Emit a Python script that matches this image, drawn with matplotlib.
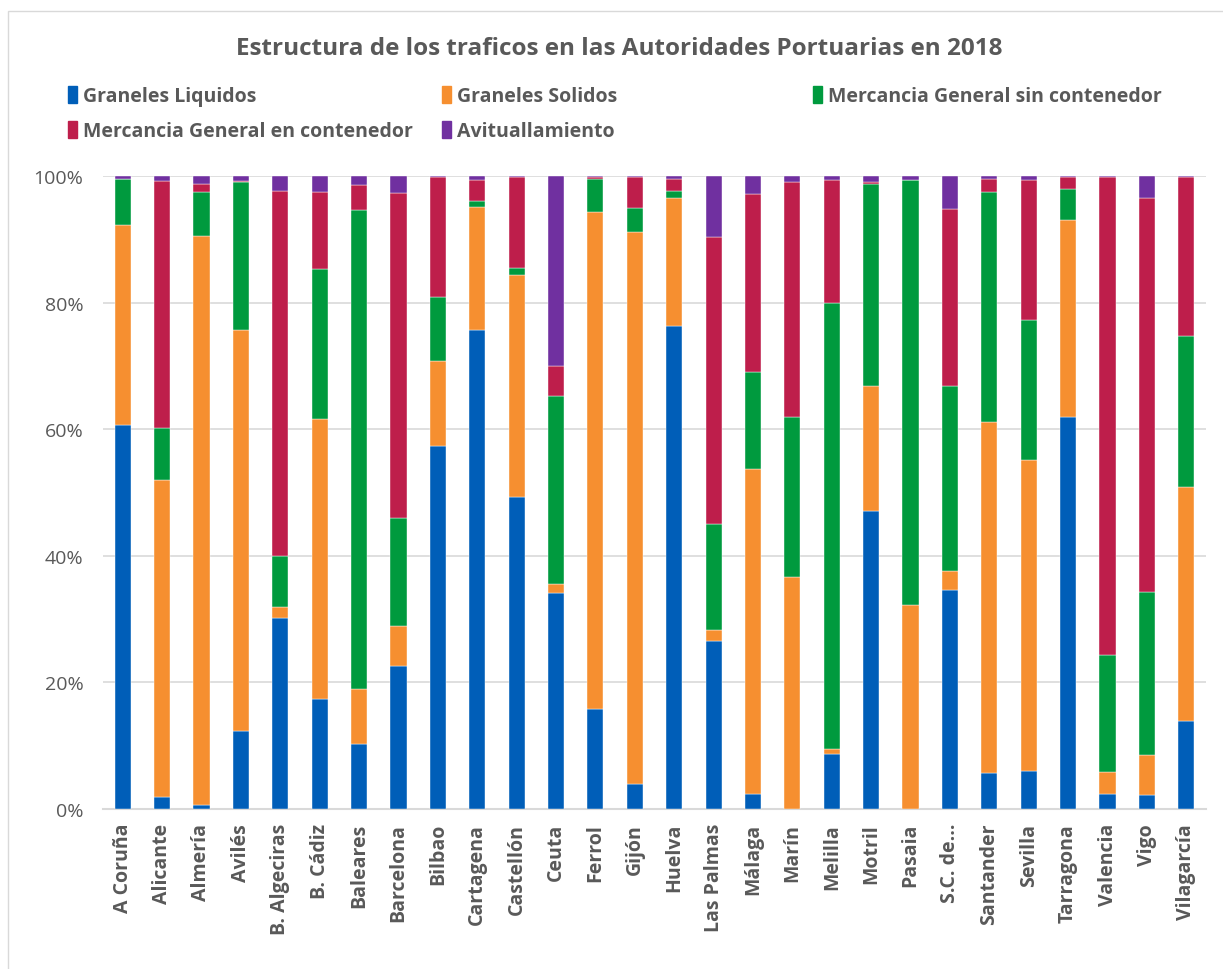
import numpy as np
import matplotlib
matplotlib.use("Agg")
import matplotlib.pyplot as plt
from matplotlib.patches import Patch, Rectangle

puertos = ["A Coruña", "Alicante", "Almería", "Avilés", "B. Algeciras", "B. Cádiz",
           "Baleares", "Barcelona", "Bilbao", "Cartagena", "Castellón", "Ceuta",
           "Ferrol", "Gijón", "Huelva", "Las Palmas", "Málaga", "Marín", "Melilla",
           "Motril", "Pasaia", "S.C. de...", "Santander", "Sevilla", "Tarragona",
           "Valencia", "Vigo", "Vilagarcía"]

# porcentajes
graneles_liquidos = [60.7, 1.9, 0.6, 12.4, 30.2, 17.4, 10.3, 22.6, 57.3, 75.7, 49.3, 34.1,
                     15.8, 3.9, 76.3, 26.5, 2.4, 0.0, 8.7, 47.1, 0.0, 34.6, 5.7, 6.0,
                     61.9, 2.4, 2.2, 13.9]
graneles_solidos = [31.6, 50.0, 89.9, 63.3, 1.7, 44.2, 8.7, 6.3, 13.5, 19.4, 35.1, 1.4,
                    78.5, 87.3, 20.2, 1.8, 51.3, 36.6, 0.8, 19.7, 32.2, 3.0, 55.4, 49.1,
                    31.1, 3.4, 6.3, 37.0]
mg_sin_cont = [7.2, 8.3, 6.9, 23.4, 8.1, 23.7, 75.6, 17.1, 10.1, 1.0, 1.1, 29.7,
               5.2, 3.7, 1.2, 16.7, 15.3, 25.3, 70.4, 32.0, 67.1, 29.2, 36.3, 22.2,
               5.0, 18.5, 25.8, 23.8]
mg_en_cont = [0.1, 39.0, 1.3, 0.1, 57.6, 12.2, 4.0, 51.3, 18.9, 3.3, 14.4, 4.8,
              0.3, 4.9, 1.8, 45.3, 28.1, 37.1, 19.5, 0.2, 0.0, 28.0, 2.2, 22.1,
              1.9, 75.5, 62.3, 25.1]
avituallamiento = [0.4, 0.8, 1.3, 0.8, 2.4, 2.5, 1.4, 2.7, 0.2, 0.6, 0.1, 30.0,
                   0.2, 0.2, 0.5, 9.7, 2.9, 1.0, 0.6, 1.0, 0.7, 5.2, 0.4, 0.6,
                   0.1, 0.2, 3.4, 0.2]

series = [
    ("Graneles Liquidos", graneles_liquidos, "#005EB8"),
    ("Graneles Solidos", graneles_solidos, "#F68F30"),
    ("Mercancia General sin contenedor", mg_sin_cont, "#009A3E"),
    ("Mercancia General en contenedor", mg_en_cont, "#BE1E4B"),
    ("Avituallamiento", avituallamiento, "#7030A0"),
]

gris = "#595959"
plt.rcParams['font.family'] = ['Open Sans', 'DejaVu Sans']

fig = plt.figure(figsize=(12.23, 9.70), dpi=100)
ax = fig.add_axes([103 / 1223, 1 - 810 / 970, (1206 - 103) / 1223, (810 - 177) / 970])

x = np.arange(len(puertos))
total = np.sum([s[1] for s in series], axis=0)
bottom = np.zeros(len(puertos))
handles = []
for nombre, vals, col in series:
    v = np.array(vals) / total
    ax.bar(x, v, 0.41, bottom=bottom, color=col, edgecolor="white", linewidth=0.3, zorder=3)
    bottom += v
    handles.append(Patch(color=col, label=nombre))

ax.set_xlim(-0.5, len(puertos) - 0.5)
ax.set_ylim(0, 1)
ax.set_yticks(np.arange(0, 1.01, 0.2))
ax.set_yticklabels([f"{int(t * 100)}%" for t in np.arange(0, 1.01, 0.2)],
                   fontsize=14, color=gris)
ax.set_xticks(x)
ax.set_xticklabels(puertos, rotation=90, fontsize=14, fontweight="bold", color=gris)
ax.tick_params(axis="x", length=0, pad=10)
ax.tick_params(axis="y", length=0, pad=14)
ax.grid(axis="y", color="#d9d9d9", linewidth=1.2, zorder=0)
for s in ["top", "right", "left"]:
    ax.spines[s].set_visible(False)
ax.spines["bottom"].set_color("#d9d9d9")
ax.spines["bottom"].set_linewidth(1.5)

fig.text(619 / 1223, 1 - 49 / 970, "Estructura de los traficos en las Autoridades Portuarias en 2018",
         ha="center", va="center", fontsize=17.5, fontweight="bold", color=gris)

# leyenda en tres columnas fijas
cols = [[handles[0], handles[3]], [handles[1], handles[4]], [handles[2]]]
xpos = [58, 432, 803]
for hs, xp in zip(cols, xpos):
    fig.legend(handles=hs, loc="upper left", bbox_to_anchor=(xp / 1223, 1 - 77 / 970),
               frameon=False, ncol=1, handlelength=0.5, handleheight=1.0,
               handletextpad=0.3, labelspacing=0.75, borderpad=0,
               prop={"size": 14, "weight": "bold"}, labelcolor=gris)

fig.patches.append(Rectangle((8 / 1223, -0.05), 1.1, 1 - 12 / 970 + 0.05,
                             transform=fig.transFigure, fill=False,
                             edgecolor="#d9d9d9", linewidth=1))

fig.savefig("out.png", dpi=100)
